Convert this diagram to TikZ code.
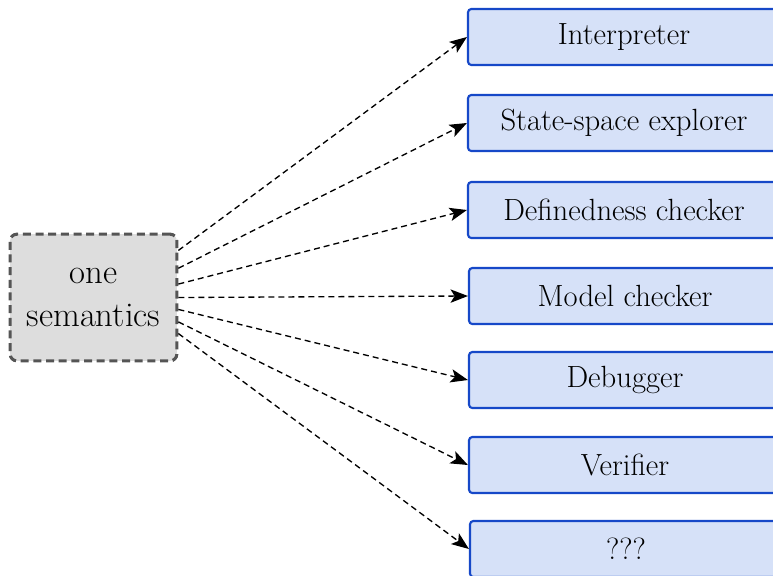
\documentclass[tikz,border=0pt]{standalone}
\usepackage{tikz}
\usetikzlibrary{arrows.meta, positioning}
\definecolor{toolblue}{RGB}{22,72,200}
\definecolor{toollight}{RGB}{214,225,248}
\definecolor{semgray}{RGB}{85,85,85}
\definecolor{semlight}{RGB}{221,221,221}
\tikzset{
  toolbox/.style={
    rectangle, rounded corners=2.5pt, draw=toolblue, line width=1.6pt,
    fill=toollight, minimum width=234pt, minimum height=42pt,
    inner sep=0pt, align=center, font=\fontsize{23}{27}\selectfont
  },
  semanticsbox/.style={
    rectangle, rounded corners=5pt, draw=semgray, line width=2.3pt,
    dash pattern=on 6pt off 3.5pt, fill=semlight,
    minimum width=125pt, minimum height=95pt,
    align=center, font=\fontsize{26}{32}\selectfont
  },
  genflow/.style={-{Stealth[length=13pt, width=10pt, inset=3pt]}, line width=1pt,
    dash pattern=on 4.5pt off 3pt, draw=black}
}

\begin{document}
\begin{tikzpicture}[x=0.75pt, y=-0.75pt]
\useasboundingbox (0,0) rectangle (773,575);
\clip (0,0) rectangle (773,575);

% the single semantics
\node[semanticsbox] (sem) at (93.5,297.5) {one\\semantics};

% tools derived from it
\node[toolbox] (interp) at (624,37) {Interpreter};
\node[toolbox] (explore) at (624,123) {State-space explorer};
\node[toolbox] (defined) at (624,210) {Definedness checker};
\node[toolbox] (model) at (625,296) {Model checker};
\node[toolbox] (debug) at (625,380) {Debugger};
\node[toolbox] (verify) at (625,465) {Verifier};
\node[toolbox] (unknown) at (626,549) {???};

\draw[genflow] (sem.29) -- (interp.west);
\draw[genflow] (sem.19) -- (explore.west);
\draw[genflow] (sem.9) -- (defined.west);
\draw[genflow] (sem.0) -- (model.west);
\draw[genflow] (sem.-8) -- (debug.west);
\draw[genflow] (sem.-16) -- (verify.west);
\draw[genflow] (sem.-23) -- (unknown.west);

\end{tikzpicture}
\end{document}
